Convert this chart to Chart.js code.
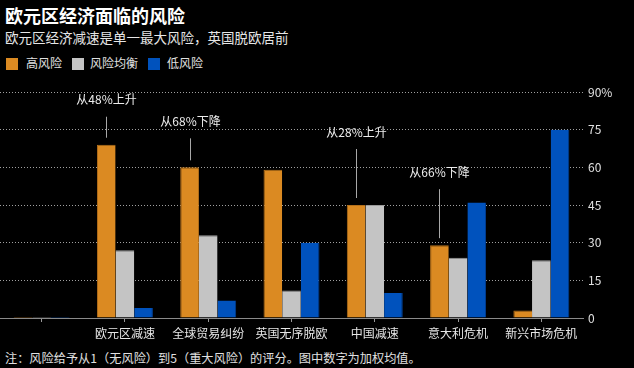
<!DOCTYPE html>
<html><head><meta charset="utf-8">
<script src="https://cdn.jsdelivr.net/npm/chart.js@4/dist/chart.umd.min.js"></script>
<style>
html,body{margin:0;padding:0;background:#000;}
body{width:634px;height:368px;position:relative;overflow:hidden;font-family:"Noto Sans CJK SC","Noto Sans",sans-serif;color:#e6e6e6;}
.t{position:absolute;white-space:nowrap;line-height:1;}
#title{left:5px;top:6px;font-size:18px;font-weight:bold;color:#fff;}
#sub{left:5px;top:31px;font-size:13.5px;color:#e6e6e6;}
.sw{position:absolute;width:12px;height:12px;top:58px;}
.lg{top:57px;font-size:12px;color:#e0e0e0;}
#note{left:5px;top:352px;font-size:12.2px;color:#e0e0e0;}
#wrap{position:absolute;left:0;top:78px;width:634px;height:269px;}
</style></head>
<body>
<div id="title" class="t">欧元区经济面临的风险</div>
<div id="sub" class="t">欧元区经济减速是单一最大风险，英国脱欧居前</div>
<div class="sw" style="left:6px;background:#DB8A22"></div><div class="t lg" style="left:26px">高风险</div>
<div class="sw" style="left:72px;background:#C4C4C4"></div><div class="t lg" style="left:90px">风险均衡</div>
<div class="sw" style="left:148px;background:#0052BD"></div><div class="t lg" style="left:167px">低风险</div>
<div id="wrap"><canvas id="c" width="634" height="269"></canvas></div>
<div id="note" class="t">注：风险给予从1（无风险）到5（重大风险）的评分。图中数字为加权均值。</div>
<script>
const categories = ["", "欧元区减速", "全球贸易纠纷", "英国无序脱欧", "中国减速", "意大利危机", "新兴市场危机"];
const highRisk = [0, 69, 60, 59, 45, 29, 3];
const balancedRisk = [0, 27, 33, 11, 45, 24, 23];
const lowRisk = [0, 4, 7, 30, 10, 46, 75];
const yTicks = [0, 15, 30, 45, 60, 75, 90];
const annotationCategories = [1, 2, 4, 5];
const annotationTexts = ["从48%上升", "从68%下降", "从28%上升", "从66%下降"];

const annotPlugin = {
  id: 'annot',
  afterDatasetsDraw(chart, args, opts) {
    const ctx = chart.ctx;
    const meta = chart.getDatasetMeta(0);
    ctx.save();
    annotationCategories.forEach((ci, k) => {
      const bar = meta.data[ci];
      const x = Math.round(bar.x) + 0.5;
      const top = bar.y - opts.gap;
      const len = opts.lengths[k];
      ctx.strokeStyle = '#a8a8a8';
      ctx.lineWidth = 1;
      ctx.beginPath();
      ctx.moveTo(x, top);
      ctx.lineTo(x, top - len);
      ctx.stroke();
      ctx.fillStyle = '#ececec';
      ctx.font = '12px "Noto Sans CJK SC"';
      ctx.textAlign = 'center';
      ctx.textBaseline = 'middle';
      ctx.fillText(annotationTexts[k], x, top - len - 17);
    });
    ctx.restore();
  }
};

new Chart(document.getElementById('c'), {
  type: 'bar',
  data: {
    labels: categories,
    datasets: [
      {label: '高风险', data: highRisk, backgroundColor: '#DB8A22', borderColor: '#B5701A', borderWidth: {top:1,left:1,right:0,bottom:0}, minBarLength: 1},
      {label: '风险均衡', data: balancedRisk, backgroundColor: '#C4C4C4', borderColor: '#9a9a9a', borderWidth: {top:1,left:0,right:0,bottom:0}, minBarLength: 1},
      {label: '低风险', data: lowRisk, backgroundColor: '#0052BD', borderColor: '#003f94', borderWidth: {top:0,left:0,right:1,bottom:0}, minBarLength: 1}
    ]
  },
  options: {
    responsive: false,
    animation: false,
    layout: {padding: {top: 14, left: 0, right: 0, bottom: 0}},
    plugins: {
      legend: {display: false},
      tooltip: {enabled: false},
      annot: {gap: 7, lengths: [21, 22, 49, 49]}
    },
    datasets: {bar: {categoryPercentage: 0.672, barPercentage: 1.0}},
    scales: {
      x: {
        grid: {display: true, drawOnChartArea: false, drawTicks: true, tickLength: 4, offset: false, color: '#999'},
        border: {display: true, color: '#8a8a8a', width: 1},
        ticks: {color: '#e6e6e6', font: {size: 12, family: '"Noto Sans CJK SC"'}, padding: 4, maxRotation: 0, autoSkip: false},
        afterFit(s) { s.height = 29; }
      },
      y: {
        position: 'right',
        min: 0, max: 90,
        afterBuildTicks(s) { s.ticks = yTicks.map(v => ({value: v})); },
        grid: {drawTicks: false, color: (c) => c.tick && c.tick.value === 0 ? 'rgba(0,0,0,0)' : '#a0a0a0', lineWidth: 1},
        border: {display: false, dash: [1, 2]},
        ticks: {color: '#e0e0e0', font: {size: 12, family: '"Noto Sans CJK SC"'}, padding: 5,
          callback: (v) => v === 90 ? '90%' : String(v)},
        afterFit(s) { s.width = 51; }
      }
    }
  },
  plugins: [annotPlugin]
});
</script>
</body></html>
